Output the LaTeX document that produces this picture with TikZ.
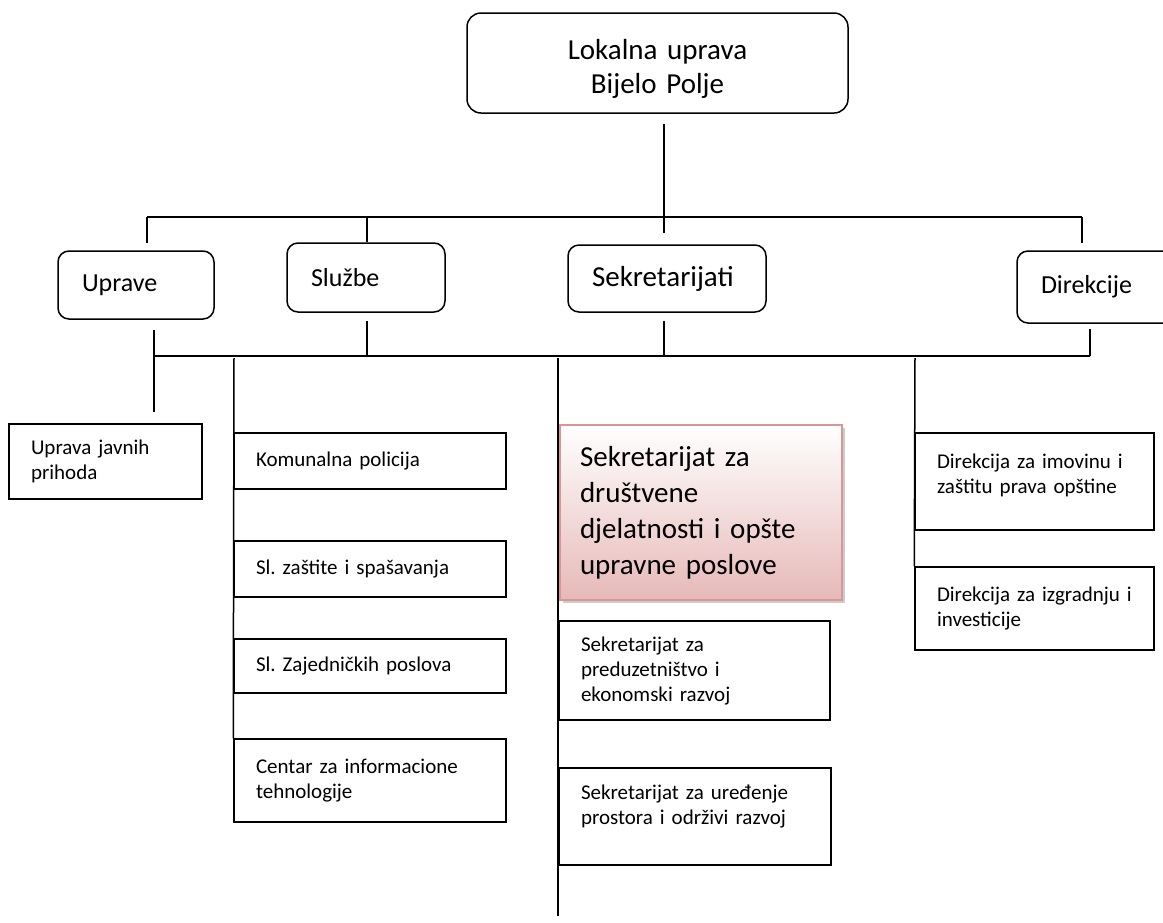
\documentclass[tikz,border=0pt]{standalone}
\usepackage{fontspec}
\setmainfont{Carlito}
\frenchspacing
\usetikzlibrary{shadows}
\definecolor{hlfill}{HTML}{E6B9B8}
\definecolor{hlline}{HTML}{D99694}
\begin{document}
\begin{tikzpicture}[
        x=1pt, y=-1pt,
        line width=1.5pt,
        head/.style={draw, rounded corners=14pt, align=center, inner sep=0pt, font=\fontsize{29}{34}\selectfont},
        group/.style={draw, rounded corners=11pt, align=left, inner xsep=24pt, inner ysep=0pt, font=\fontsize{26}{31}\selectfont},
        unit/.style={draw, align=left, inner xsep=22pt, inner ysep=0pt, text width=228pt, font=\fontsize{21}{25}\selectfont},
        hilite/.style={draw=hlline, line width=2pt, top color=white, bottom color=hlfill, align=left,
            inner xsep=20pt, inner ysep=0pt, text width=242pt, font=\fontsize{29}{36}\selectfont,
            drop shadow={shadow xshift=3pt, shadow yshift=-3pt, fill=black!40}}
    ]
        \useasboundingbox (0,0) rectangle (1163,922);
        \clip (0,0) rectangle (1163,922);

        % Top and the four groups
        \node[head, text width=381pt, minimum height=100pt] (lok) at (657.5,63) {\rule{0pt}{31pt}Lokalna uprava\\Bijelo Polje};
        \node[group, text width=108pt, minimum height=68pt] (upr) at (136,285) {Uprave};
        \node[group, text width=110pt, minimum height=69pt] (slu) at (366,277.5) {Službe};
        \node[group, text width=150pt, minimum height=67pt, font=\fontsize{29}{34}\selectfont] (sek) at (667,278.5) {Sekretarijati};
        \node[group, text width=132pt, minimum height=72pt] (dir) at (1107,287) {Direkcije};

        % Units under the groups
        \node[unit, text width=149pt, minimum height=75pt] (ujp) at (105.5,461.5) {Uprava javnih\\prihoda};
        \node[unit, minimum height=56pt] (kom) at (370,461) {Komunalna policija};
        \node[unit, minimum height=56pt] (szs) at (370,569) {Sl. zaštite i spašavanja};
        \node[unit, minimum height=54pt] (szp) at (370,666) {Sl. Zajedničkih poslova};
        \node[unit, minimum height=83pt] (cit) at (370,780.5) {Centar za informacione\\tehnologije};
        \node[hilite, minimum height=175pt] (sdj) at (701,512.5) {Sekretarijat za\\društvene\\djelatnosti i opšte\\upravne poslove};
        \node[unit, text width=227pt, minimum height=99pt] (spr) at (694.5,670.5) {Sekretarijat za\\preduzetništvo i\\ekonomski razvoj};
        \node[unit, minimum height=97pt] (sup) at (695,816.5) {Sekretarijat za uređenje\\prostora i održivi razvoj\rule[-24pt]{0pt}{24pt}};
        \node[unit, text width=195pt, minimum height=97pt] (dim) at (1034.5,481.5) {Direkcija za imovinu i\\zaštitu prava opštine\rule[-16pt]{0pt}{16pt}};
        \node[unit, text width=195pt, minimum height=83pt] (diz) at (1034.5,608.5) {Direkcija za izgradnju i\\investicije};

        % Upper bus
        \coordinate (b1) at (147,217);
        \coordinate (b2) at (367,217);
        \coordinate (b3) at (664,217);
        \coordinate (b4) at (1082,217);
        \draw (b1) -- (b4);
        \draw[shorten <=10pt] (lok.south -| b3) -- (b3);
        \draw[shorten >=7pt] (b1) -- (upr.north -| b1);
        \draw (b2) -- (slu.north -| b2);
        \draw[shorten >=11pt] (b3) -- (sek.north -| b3);
        \draw[shorten >=7pt] (b4) -- (dir.north -| b4);

        % Lower bus
        \coordinate (c1) at (154,356);
        \coordinate (c2) at (367,356);
        \coordinate (c3) at (664,356);
        \coordinate (c4) at (1090,356);
        \draw (c1) -- (c4);
        \draw[shorten <=10pt] (upr.south -| c1) -- (c1);
        \draw[shorten >=11pt] (c1) -- (ujp.north -| c1);
        \draw[shorten <=8pt] (slu.south -| c2) -- (c2);
        \draw[shorten <=8pt] (sek.south -| c3) -- (c3);
        \draw[shorten <=5pt] (dir.south -| c4) -- (c4);

        % Branch lines
        \coordinate (s1) at (234,358);
        \coordinate (s2) at (558,358);
        \coordinate (s2end) at (558,916);
        \coordinate (s3) at (915,358);
        \draw (s1) -- (cit.north west);
        \draw (s2) -- (s2end);
        \draw (s3) -- (diz.north west);
    \end{tikzpicture}
\end{document}
